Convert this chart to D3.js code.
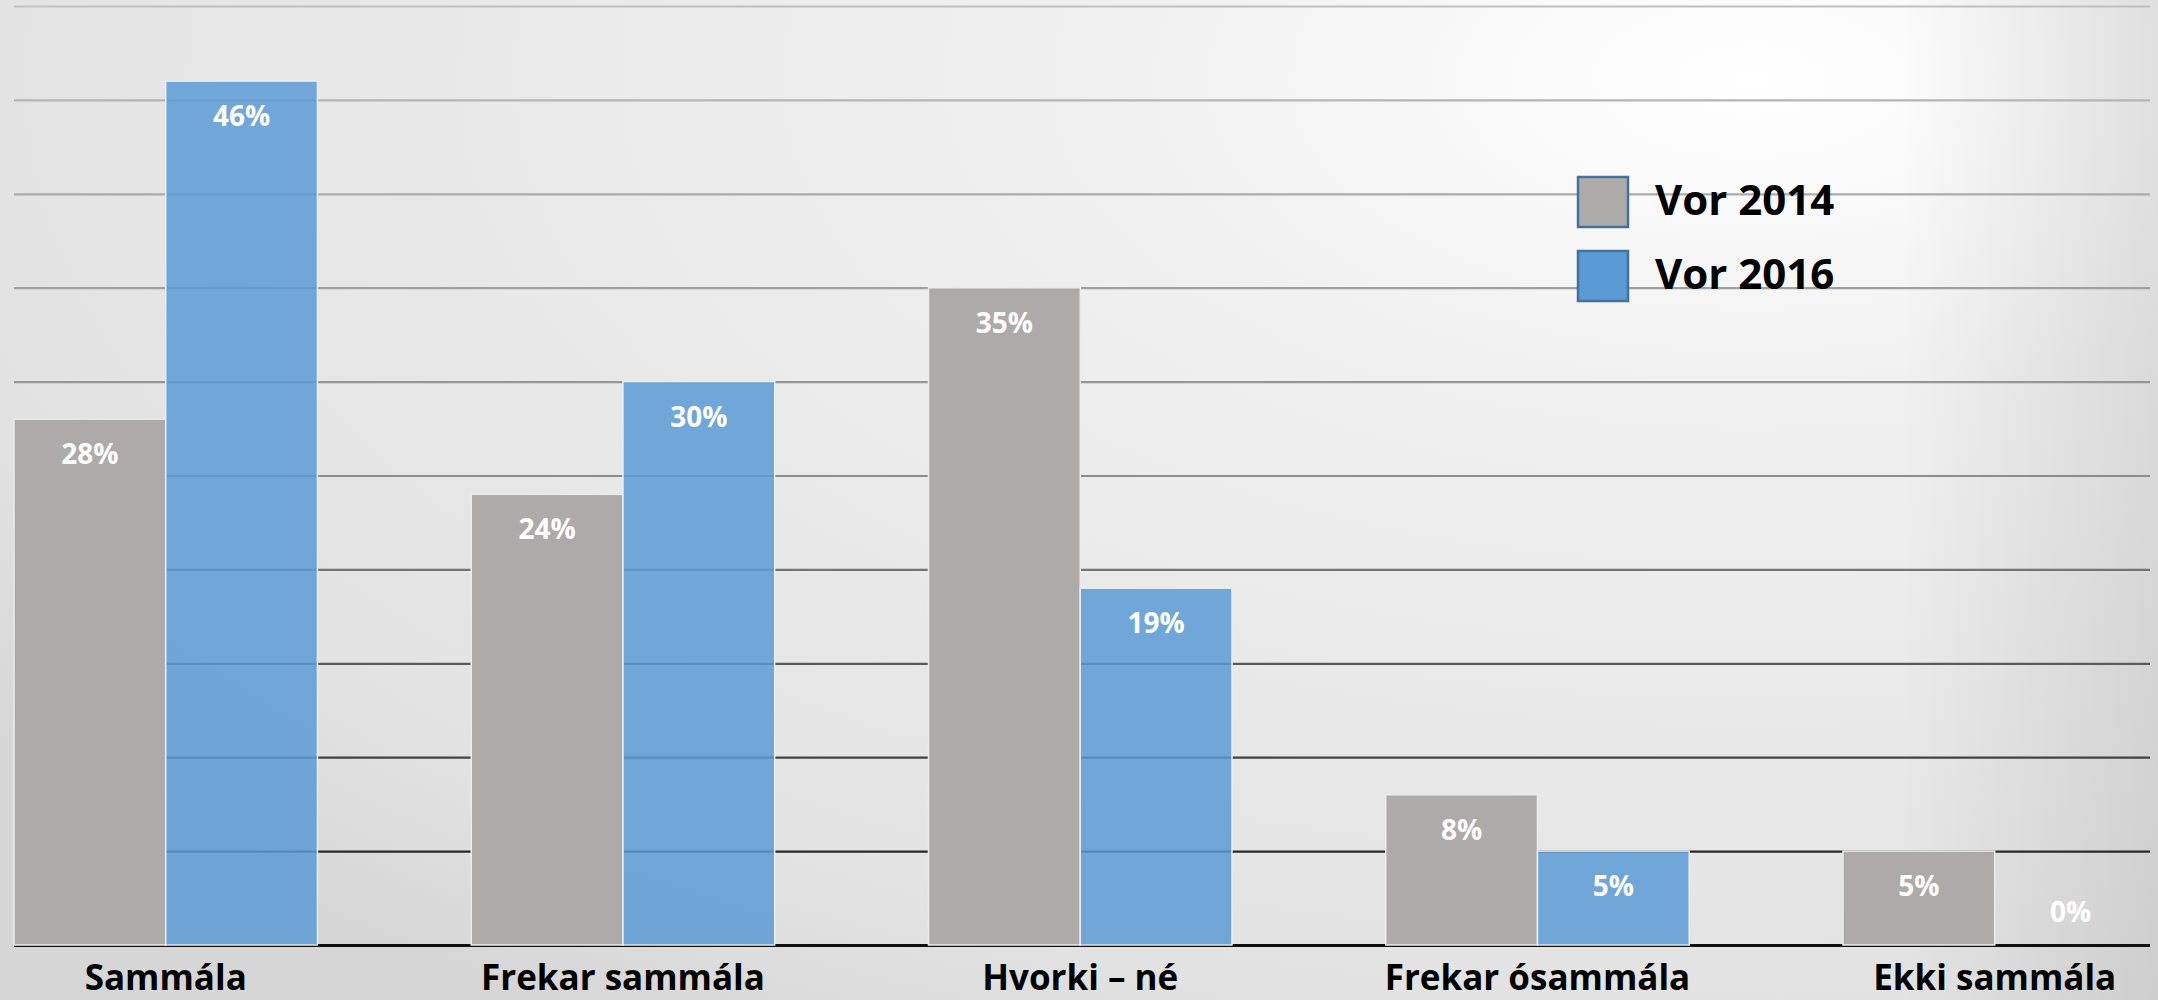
<!DOCTYPE html>
<html lang="is">
<head>
<meta charset="utf-8" />
<title>Vor 2014 / Vor 2016</title>
<style>
  body { margin: 0; padding: 0; overflow: hidden; }
  svg { display: block; }
  text { font-family: 'Open Sans', 'Noto Sans', sans-serif; font-weight: 700; }
</style>
<script src="https://d3js.org/d3.v7.min.js"></script>
</head>
<body>
<div id="chart"></div>
<script>
// data
const categories = ["Sammála", "Frekar sammála", "Hvorki – né", "Frekar ósammála", "Ekki sammála"];
const seriesNames = ["Vor 2014", "Vor 2016"];
const vor2014 = [0.28, 0.24, 0.35, 0.08, 0.05];
const vor2016 = [0.46, 0.30, 0.19, 0.05, 0.00];
const yTicks = [0, 0.05, 0.10, 0.15, 0.20, 0.25, 0.30, 0.35, 0.40, 0.45, 0.50];

const W = 2158, H = 1000;
const colors = { "Vor 2014": "#aeaaaa", "Vor 2016": "#5b9bd5" };

const svg = d3.select("#chart").append("svg")
  .attr("width", W).attr("height", H);

// background shading
const defs = svg.append("defs");
const bg = defs.append("radialGradient")
  .attr("id", "bg")
  .attr("gradientUnits", "userSpaceOnUse")
  .attr("cx", 0).attr("cy", 0).attr("r", 1)
  .attr("gradientTransform", "translate(1750,80) scale(2200,1100)");
bg.append("stop").attr("offset", 0).attr("stop-color", "#ffffff");
bg.append("stop").attr("offset", 0.3).attr("stop-color", "#f0f0f0");
bg.append("stop").attr("offset", 0.85).attr("stop-color", "#e2e2e2");
bg.append("stop").attr("offset", 1).attr("stop-color", "#d6d6d6");

const edge = defs.append("linearGradient")
  .attr("id", "edge").attr("x1", 0).attr("x2", 1).attr("y1", 0).attr("y2", 0);
edge.append("stop").attr("offset", 0).attr("stop-color", "#000").attr("stop-opacity", 0);
edge.append("stop").attr("offset", 1).attr("stop-color", "#000").attr("stop-opacity", 0.09);

svg.append("rect").attr("width", W).attr("height", H).attr("fill", "url(#bg)");
svg.append("rect").attr("x", 1900).attr("width", W - 1900).attr("height", H).attr("fill", "url(#edge)");

// scales
const y = d3.scaleLinear().domain([0, 0.5]).range([945, 6]);
const x0 = d3.scaleBand().domain(categories)
  .range([-62.9, 2223.35])
  .paddingInner(0.3363).paddingOuter(0.16815);
const x1 = d3.scaleBand().domain(seriesNames).range([0, x0.bandwidth()]);

const gridColor = d3.scaleLinear()
  .domain([0, 0.25, 0.5])
  .range(["#101010", "#8c8c8c", "#bfbfbf"]);

// gridlines
const grid = svg.append("g")
  .attr("transform", "translate(14,0)")
  .call(d3.axisLeft(y).tickValues(yTicks).tickSize(-(2150 - 14)).tickFormat(""));
grid.select(".domain").remove();
grid.selectAll(".tick line")
  .attr("stroke", d => gridColor(d))
  .attr("stroke-width", d => d === 0 ? 3 : 2.2);

// bars
const rows = categories.map((c, i) => ({
  cat: c,
  vals: [
    { s: "Vor 2014", v: vor2014[i] },
    { s: "Vor 2016", v: vor2016[i] }
  ]
}));

const groups = svg.append("g").selectAll("g")
  .data(rows).join("g")
  .attr("transform", d => `translate(${x0(d.cat)},0)`);

groups.selectAll("rect")
  .data(d => d.vals).join("rect")
  .attr("x", d => x1(d.s))
  .attr("y", d => y(d.v))
  .attr("width", x1.bandwidth())
  .attr("height", d => y(0) - y(d.v))
  .attr("fill", d => colors[d.s])
  .attr("fill-opacity", d => d.s === "Vor 2016" ? 0.85 : 1)
  .attr("stroke", d => d.v > 0 ? "#ececec" : "none")
  .attr("stroke-width", 1.5);

groups.selectAll("text")
  .data(d => d.vals).join("text")
  .attr("x", d => x1(d.s) + x1.bandwidth() / 2)
  .attr("y", d => d.v > 0 ? y(d.v) + 45 : y(0) - 23)
  .attr("text-anchor", "middle")
  .attr("fill", "#ffffff")
  .attr("font-size", 28)
  .text(d => d3.format(".0%")(d.v));

// category axis
const xAxis = svg.append("g")
  .attr("transform", `translate(0,${y(0)})`)
  .call(d3.axisBottom(x0).tickSize(0));
xAxis.select(".domain").remove();
xAxis.selectAll(".tick text")
  .attr("y", 45).attr("dy", 0)
  .attr("fill", "#000")
  .attr("font-size", 35)
  .attr("font-family", "'Open Sans', 'Noto Sans', sans-serif")
  .attr("font-weight", 700);

// legend
const legend = svg.append("g").attr("transform", "translate(1578,177)");
const li = legend.selectAll("g").data(seriesNames).join("g")
  .attr("transform", (d, i) => `translate(0,${i * 74})`);
li.append("rect")
  .attr("width", 50).attr("height", 50)
  .attr("fill", d => colors[d])
  .attr("stroke", "#41719c").attr("stroke-width", 2.5);
li.append("text")
  .attr("x", 77).attr("y", 38)
  .attr("font-size", 42)
  .attr("fill", "#000")
  .text(d => d);
</script>
</body>
</html>
